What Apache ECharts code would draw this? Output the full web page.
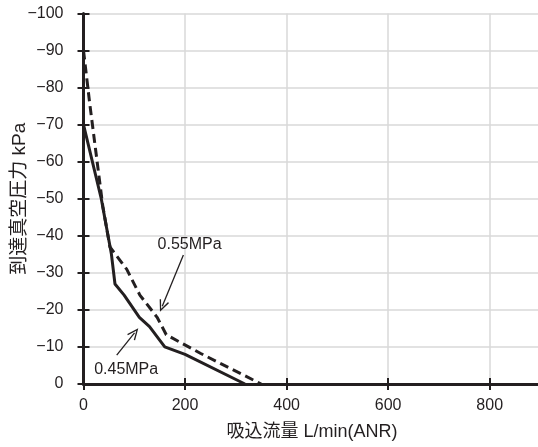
<!DOCTYPE html>
<html>
<head>
<meta charset="utf-8">
<script src="https://cdn.jsdelivr.net/npm/echarts@6/dist/echarts.min.js"></script>
<style>html,body{margin:0;padding:0;background:#fff;}#c{width:538px;height:447px;}</style>
</head>
<body>
<div id="c"></div>
<script>
// 0.45MPa (solid)
const flow045 = [0, 35, 55, 62, 80, 110, 130, 160, 200, 318];
const vac045  = [-70, -50, -35, -27, -24, -18, -15.5, -10, -8, 0];
// 0.55MPa (dashed)
const flow055 = [0, 12, 25, 38, 52, 85, 111, 145, 163, 230, 350];
const vac055  = [-90, -76, -62, -48, -37, -31, -24, -18, -13.3, -8.3, 0];
const seriesNames = ['0.45MPa', '0.55MPa'];
const xTicks = [0, 200, 400, 600, 800];
const yTicks = [0, -10, -20, -30, -40, -50, -60, -70, -80, -90, -100];
// annotation: label positions and arrow [from, to] in data units
const label055 = [209, -37.7];
const arrow055 = [[196.7, -34.8], [155.1, -21]];
const label045 = [84, -3.8];
const arrow045 = [[65.4, -7.8], [100.5, -13.8]];

const FONT = '"Liberation Sans", Arial, "Noto Sans CJK JP", sans-serif';
const INK = '#231f20';
const pair = (xs, ys) => xs.map((x, i) => [x, ys[i]]);
const arrowHead = 'path://M0,0 L5,10 L3.8,10.6 L0,2.8 L-3.8,10.6 L-5,10 Z';

const chart = echarts.init(document.getElementById('c'), null, {renderer: 'canvas'});
const gridBox = {left: 83.5, top: 13.5, width: 457, height: 370.5, containLabel: false, outerBoundsMode: 'none'};
const fmtMinus = v => String(v).replace('-', '\u2212');

const option = {
  animation: false,
  backgroundColor: '#fff',
  grid: gridBox,
  xAxis: [{
    type: 'value', min: 0, max: 900, interval: 200,
    name: '吸込流量 L/min(ANR)', nameLocation: 'middle', nameGap: 39, nameMoveOverlap: false,
    nameTextStyle: {fontFamily: FONT, fontSize: 18, color: INK},
    axisLine: {show: true, onZero: false, lineStyle: {color: INK, width: 3}},
    axisTick: {show: true, length: 6, lineStyle: {color: INK, width: 2}},
    axisLabel: {fontFamily: FONT, fontSize: 16, color: INK, margin: 14,
      formatter: v => xTicks.indexOf(v) >= 0 ? String(v) : ''},
    splitLine: {show: true, lineStyle: {color: '#d9d9d9', width: 1.5}}
  }, {
    type: 'value', min: 0, max: 900, interval: 200, position: 'bottom',
    axisLine: {show: false}, axisLabel: {show: false}, splitLine: {show: false},
    axisTick: {show: true, inside: true, length: 6, lineStyle: {color: INK, width: 2}}
  }],
  yAxis: [{
    type: 'value', min: -100, max: 0, interval: 10, inverse: true,
    name: '到達真空圧力 kPa', nameLocation: 'middle', nameGap: 54, nameMoveOverlap: false,
    nameTextStyle: {fontFamily: FONT, fontSize: 19, color: INK},
    axisLine: {show: true, onZero: false, lineStyle: {color: INK, width: 3}},
    axisTick: {show: true, length: 6, lineStyle: {color: INK, width: 2}},
    axisLabel: {fontFamily: FONT, fontSize: 16, color: INK, margin: 20,
      formatter: v => yTicks.indexOf(v) >= 0 ? fmtMinus(v) : ''},
    splitLine: {show: true, lineStyle: {color: '#d9d9d9', width: 1.5}}
  }, {
    type: 'value', min: -100, max: 0, interval: 10, inverse: true, position: 'left',
    axisLine: {show: false}, axisLabel: {show: false}, splitLine: {show: false},
    axisTick: {show: true, inside: true, length: 6, lineStyle: {color: INK, width: 2}}
  }],
  series: [{
    name: seriesNames[0], type: 'line', data: pair(flow045, vac045),
    showSymbol: false, symbol: 'none', clip: false,
    lineStyle: {color: INK, width: 3},
    markLine: {
      silent: true, symbol: ['none', arrowHead], symbolSize: [10, 12],
      itemStyle: {color: INK},
      lineStyle: {color: INK, width: 1.3, type: 'solid'}, label: {show: false},
      data: [[{coord: arrow045[0]}, {coord: arrow045[1]}]]
    },
    markPoint: {
      silent: true, symbol: 'circle', symbolSize: 0,
      label: {show: true, position: 'inside', fontFamily: FONT, fontSize: 16, color: INK, formatter: seriesNames[0]},
      data: [{coord: label045}]
    }
  }, {
    name: seriesNames[1], type: 'line', data: pair(flow055, vac055),
    showSymbol: false, symbol: 'none', clip: false,
    lineStyle: {color: INK, width: 3, type: [9, 5]},
    markLine: {
      silent: true, symbol: ['none', arrowHead], symbolSize: [10, 12],
      itemStyle: {color: INK},
      lineStyle: {color: INK, width: 1.3, type: 'solid'}, label: {show: false},
      data: [[{coord: arrow055[0]}, {coord: arrow055[1]}]]
    },
    markPoint: {
      silent: true, symbol: 'circle', symbolSize: 0,
      label: {show: true, position: 'inside', fontFamily: FONT, fontSize: 16, color: INK, formatter: seriesNames[1]},
      data: [{coord: label055}]
    }
  }]
};
chart.setOption(option);
</script>
</body>
</html>
